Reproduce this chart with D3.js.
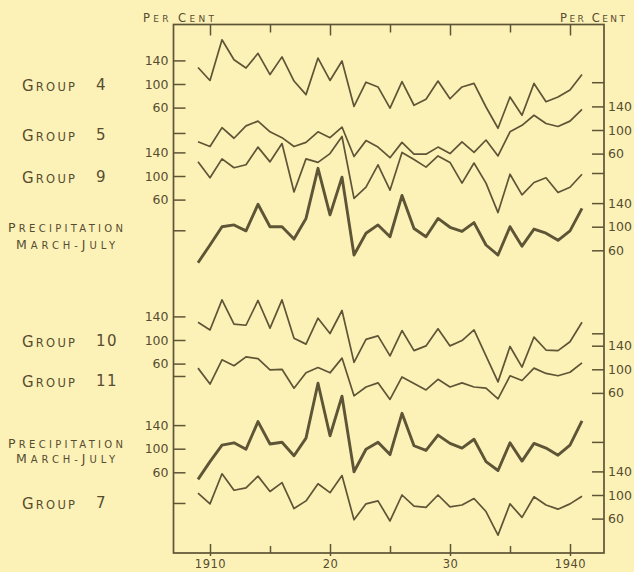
<!DOCTYPE html>
<html>
<head>
<meta charset="utf-8">
<script src="https://cdn.jsdelivr.net/npm/d3@7"></script>
<style>
  body { margin: 0; background: #fcf2b8; }
  svg { display: block; }
  text { font-family: 'DejaVu Sans', sans-serif; fill: #564c30; }
</style>
</head>
<body>
<script>
//years along the x axis
const years = [1909, 1910, 1911, 1912, 1913, 1914, 1915, 1916, 1917, 1918, 1919,
  1920, 1921, 1922, 1923, 1924, 1925, 1926, 1927, 1928, 1929,
  1930, 1931, 1932, 1933, 1934, 1935, 1936, 1937, 1938, 1939, 1940, 1941]

//per cent values, one list per curve (top to bottom)
const group4 = [128, 106, 175, 141, 127, 152, 116, 146, 105, 82, 144, 106, 139, 62, 103, 95, 59,
  104, 64, 74, 105, 75, 95, 101, 61, 25, 78, 47, 101, 70, 78, 90, 116]
const group5 = [80, 72, 104, 86, 107, 115, 97, 87, 72, 79, 97, 87, 105, 55, 82, 71, 53,
  79, 59, 59, 71, 60, 80, 62, 83, 56, 97, 108, 125, 111, 106, 115, 135]
const group9 = [124, 97, 129, 114, 119, 149, 124, 155, 73, 129, 123, 138, 167, 62, 81, 119, 76,
  140, 128, 115, 134, 123, 88, 122, 88, 38, 103, 68, 89, 97, 72, 81, 103]
const precipA = [39, 69, 100, 103, 93, 138, 100, 100, 79, 114, 199, 120, 184, 52, 89, 103, 83,
  153, 97, 83, 114, 99, 92, 107, 69, 52, 100, 67, 96, 89, 77, 93, 131]
const group10 = [130, 117, 168, 127, 125, 167, 120, 168, 103, 93, 137, 111, 150, 62, 101, 107, 73,
  116, 82, 90, 119, 90, 99, 117, 73, 29, 89, 54, 105, 83, 82, 97, 130]
const group11 = [102, 75, 116, 106, 121, 118, 99, 100, 68, 94, 103, 94, 119, 55, 70, 77, 49,
  87, 76, 65, 83, 70, 77, 70, 68, 50, 89, 81, 102, 93, 89, 95, 111]
const precipB = [48, 78, 106, 110, 99, 146, 108, 111, 88, 118, 211, 122, 189, 61, 99, 111, 90,
  160, 105, 97, 123, 109, 101, 116, 78, 63, 110, 79, 109, 101, 89, 106, 147]
const group7 = [103, 85, 136, 108, 112, 132, 106, 121, 77, 90, 119, 104, 133, 58, 85, 90, 56,
  100, 81, 79, 100, 80, 83, 94, 72, 32, 85, 62, 97, 83, 76, 85, 98]

//tick values and labels
const yearTicks = [1910, 1915, 1920, 1925, 1930, 1935, 1940]
const yearLabels = ['1910', '', '20', '', '30', '', '1940']
const pctTicks = [60, 100, 140]

const width = 634
const height = 572
const ink = '#5e5436'

//frame of the plot
const frame = { left: 173.5, right: 604, top: 24.5, bottom: 553 }

//px for 40 per cent
const band = 23.6

//where each curve sits: y of its 100 line, which side carries its scale
//blank = unlabelled tick marks on that scale
const layout = [
  { values: group4, side: 'left', mid: 84, blank: [17], label: ['Group', '4'], ly: 85 },
  { values: group5, side: 'right', mid: 130, blank: [181], label: ['Group', '5'], ly: 135 },
  { values: group9, side: 'left', mid: 176, blank: [8], label: ['Group', '9'], ly: 177 },
  { values: precipA, side: 'right', mid: 226.7, blank: [191], thick: true, ly: 226, ly2: 243 },
  { values: group10, side: 'left', mid: 340, blank: [39], label: ['Group', '10'], ly: 341 },
  { values: group11, side: 'right', mid: 369.3, blank: [161], label: ['Group', '11'], ly: 381 },
  { values: precipB, side: 'left', mid: 448.7, blank: [8], thick: true, ly: 442.5, ly2: 457 },
  { values: group7, side: 'right', mid: 495, blank: [190], label: ['Group', '7'], ly: 503 }
]

const svg = d3.select('body')
  .append('svg')
  .attr('width', width)
  .attr('height', height)

//small caps by hand: capitals big, the rest upper-cased at a smaller size
const smallCaps = (x, y, str, big, small, len) => {
  const t = svg.append('text')
    .attr('x', x)
    .attr('y', y)
    .attr('dy', '0.36em')
    .attr('textLength', len)
    .attr('lengthAdjust', 'spacing')
  str.split('').forEach(ch => {
    const isBig = ch !== ch.toLowerCase()
    t.append('tspan')
      .attr('font-size', isBig ? big : small)
      .text(ch.toUpperCase())
  })
  return t
}

const xScale = d3.scaleLinear()
  .domain([1909, 1941])
  .range([198, 582])

//=================== FRAME ==================
svg.append('rect')
  .attr('x', frame.left)
  .attr('y', frame.top)
  .attr('width', frame.right - frame.left)
  .attr('height', frame.bottom - frame.top)
  .attr('fill', 'none')
  .attr('stroke', ink)
  .attr('stroke-width', 1.7)

//=================== X AXES ==================
const topG = svg.append('g')
  .attr('transform', `translate(0,${frame.top})`)
  .call(d3.axisBottom(xScale).tickValues(yearTicks).tickSize(8).tickFormat(''))
  .attr('color', ink)
topG.select('.domain').remove()
topG.selectAll('.tick line')
  .attr('stroke-width', 1.5)
  .attr('y2', d => d % 10 === 0 ? 11 : 8)

const bottomG = svg.append('g')
  .attr('transform', `translate(0,${frame.bottom})`)
  .call(d3.axisBottom(xScale)
    .tickValues(yearTicks)
    .tickSize(-8)
    .tickPadding(7)
    .tickFormat((d, i) => yearLabels[i]))
  .attr('color', ink)
  .attr('font-family', 'DejaVu Sans, sans-serif')
  .attr('font-size', 11.5)
bottomG.select('.domain').remove()
bottomG.selectAll('.tick line')
  .attr('stroke-width', 1.5)
  .attr('y1', d => d % 10 === 0 ? 3 : 0)
  .attr('y2', d => d % 10 === 0 ? -9 : -7)
bottomG.selectAll('.tick text').attr('letter-spacing', 0.5)

//=================== CURVES ==================
layout.forEach(s => {
  const yScale = d3.scaleLinear()
    .domain([60, 140])
    .range([s.mid + band, s.mid - band])

  const axis = (s.side === 'left' ? d3.axisLeft(yScale) : d3.axisRight(yScale))
    .tickValues(pctTicks.concat(s.blank))
    .tickFormat(d => pctTicks.includes(d) ? d : '')
    .tickSize(-12)
    .tickPadding(s.side === 'left' ? 5 : 4)

  const axisG = svg.append('g')
    .attr('transform', `translate(${s.side === 'left' ? frame.left : frame.right},0)`)
    .call(axis)
    .attr('color', ink)
    .attr('font-family', 'DejaVu Sans, sans-serif')
    .attr('font-size', 12.5)
  axisG.select('.domain').remove()
  axisG.selectAll('.tick line').attr('stroke-width', 1.5)

  const line = d3.line()
    .x((d, i) => xScale(years[i]))
    .y(d => yScale(d))

  svg.append('path')
    .datum(s.values)
    .attr('d', line)
    .attr('fill', 'none')
    .attr('stroke', ink)
    .attr('stroke-width', s.thick ? 2.9 : 1.7)
    .attr('stroke-linejoin', 'round')

  //names on the left margin
  if (s.label) {
    smallCaps(22, s.ly, s.label[0], 15, 11.5, 53)
    svg.append('text')
      .attr('x', 96)
      .attr('y', s.ly)
      .attr('dy', '0.36em')
      .attr('font-size', 15)
      .attr('letter-spacing', 1.5)
      .text(s.label[1])
  } else {
    smallCaps(8, s.ly, 'Precipitation', 12.5, 10, 115)
    smallCaps(16, s.ly2, 'March-July', 12.5, 10, 99)
  }
})

//=================== UNIT LABELS ==================
smallCaps(143, 16.5, 'Per Cent', 11.5, 9, 71)
smallCaps(560, 16, 'Per Cent', 11.5, 9, 65)
</script>
</body>
</html>
